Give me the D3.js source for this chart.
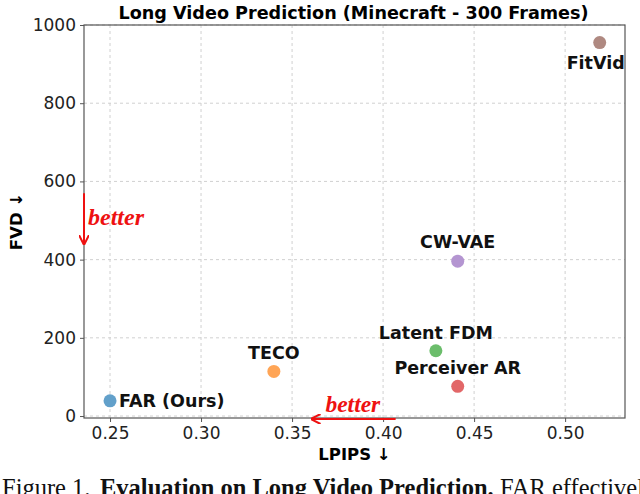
<!DOCTYPE html>
<html>
<head>
<meta charset="utf-8">
<script src="https://cdn.jsdelivr.net/npm/d3@7"></script>
<style>
  body { margin: 0; background: #fff; }
  svg { display: block; }
</style>
</head>
<body>
<svg width="640" height="494"></svg>
<script>
// data
var methods = ["FAR (Ours)", "TECO", "Latent FDM", "Perceiver AR", "CW-VAE", "FitVid"];
var lpips   = [0.250, 0.340, 0.429, 0.441, 0.441, 0.519];
var fvd     = [39, 114, 167, 76, 396, 955];
var colors  = ["#62a0ca", "#ffa556", "#6bbd6b", "#e26768", "#b495d1", "#af8981"];
var xTicks  = [0.25, 0.30, 0.35, 0.40, 0.45, 0.50];
var yTicks  = [0, 200, 400, 600, 800, 1000];

var svg = d3.select("svg"),
    margin = {top: 25, right: 15, bottom: 76, left: 84},
    width = 640 - margin.left - margin.right,
    height = 494 - margin.top - margin.bottom;

var x = d3.scaleLinear().domain([0.2357, 0.5329]).range([0, width]);
var y = d3.scaleLinear().domain([-5, 1000]).range([height, 0]);

var g = svg.append("g")
    .attr("transform", "translate(" + margin.left + "," + margin.top + ")");

svg.append("defs").append("clipPath").attr("id", "plotclip")
  .append("rect").attr("width", width).attr("height", height);

// grid
g.append("g").selectAll("line").data(xTicks).enter().append("line")
    .attr("x1", d => x(d)).attr("x2", d => x(d))
    .attr("y1", 0).attr("y2", height)
    .attr("stroke", "#d0d0d0").attr("stroke-dasharray", "3,3");
g.append("g").selectAll("line").data(yTicks).enter().append("line")
    .attr("y1", d => y(d)).attr("y2", d => y(d))
    .attr("x1", 0).attr("x2", width)
    .attr("stroke", "#d0d0d0").attr("stroke-dasharray", "3,3");

// axes
var xAxis = g.append("g")
    .attr("transform", "translate(0," + height + ")")
    .call(d3.axisBottom(x).tickValues(xTicks).tickFormat(d3.format(".2f")).tickSize(4).tickPadding(5));
var yAxis = g.append("g")
    .call(d3.axisLeft(y).tickValues(yTicks).tickFormat(d3.format("d")).tickSize(4).tickPadding(4));

[xAxis, yAxis].forEach(function(a) {
  a.select(".domain").remove();
  a.selectAll("line").attr("stroke", "#555");
  a.selectAll("text")
    .attr("font-family", "DejaVu Sans").attr("font-size", 17).attr("fill", "#222");
});

// frame
g.append("rect").attr("width", width).attr("height", height)
    .attr("fill", "none").attr("stroke", "#555").attr("stroke-width", 1.2);

// points
var pts = methods.map(function(m, i) { return {name: m, x: lpips[i], y: fvd[i], c: colors[i]}; });

g.selectAll(".dot").data(pts).enter().append("circle")
    .attr("class", "dot")
    .attr("cx", d => x(d.x)).attr("cy", d => y(d.y))
    .attr("r", 6.5).attr("fill", d => d.c);

// labels
var labelPos = {
  "FAR (Ours)":   {dx: 9,  dy: 6,   anchor: "start"},
  "TECO":         {dx: 0,  dy: -12, anchor: "middle"},
  "Latent FDM":   {dx: 0,  dy: -12, anchor: "middle"},
  "Perceiver AR": {dx: 0,  dy: -12, anchor: "middle"},
  "CW-VAE":       {dx: 0,  dy: -13, anchor: "middle"},
  "FitVid":       {dx: -4, dy: 26,  anchor: "middle"}
};
g.append("g").attr("clip-path", "url(#plotclip)")
  .selectAll("text").data(pts).enter().append("text")
    .attr("x", d => x(d.x) + labelPos[d.name].dx)
    .attr("y", d => y(d.y) + labelPos[d.name].dy)
    .attr("text-anchor", d => labelPos[d.name].anchor)
    .attr("font-family", "DejaVu Sans").attr("font-weight", "bold")
    .attr("font-size", 17.5).attr("fill", "#111")
    .text(d => d.name);

// title and axis labels
svg.append("text")
    .attr("x", margin.left + width / 2 - 1).attr("y", 19)
    .attr("text-anchor", "middle")
    .attr("font-family", "DejaVu Sans").attr("font-weight", "bold").attr("font-size", 17.6)
    .text("Long Video Prediction (Minecraft - 300 Frames)");

svg.append("text")
    .attr("x", margin.left + width / 2).attr("y", 460)
    .attr("text-anchor", "middle")
    .attr("font-family", "DejaVu Sans").attr("font-weight", "bold").attr("font-size", 16.5)
    .text("LPIPS \u2193");

svg.append("text")
    .attr("transform", "translate(22," + (margin.top + height / 2) + ") rotate(-90)")
    .attr("text-anchor", "middle")
    .attr("font-family", "DejaVu Sans").attr("font-weight", "bold").attr("font-size", 16.5)
    .text("FVD \u2193");

// "better" arrows
var red = "#ee1111";
svg.append("defs").append("marker")
    .attr("id", "head").attr("viewBox", "0 0 10 10")
    .attr("refX", 9).attr("refY", 5)
    .attr("markerWidth", 5).attr("markerHeight", 5)
    .attr("orient", "auto")
  .append("path").attr("d", "M0,0 L10,5 L0,10").attr("fill", "none")
    .attr("stroke", red).attr("stroke-width", 2);

g.append("line")
    .attr("x1", 0).attr("x2", 0)
    .attr("y1", y(570)).attr("y2", y(440))
    .attr("stroke", red).attr("stroke-width", 2).attr("marker-end", "url(#head)");
g.append("text")
    .attr("x", 4).attr("y", y(488))
    .attr("font-family", "Liberation Serif").attr("font-style", "italic").attr("font-weight", "bold")
    .attr("font-size", 24).attr("fill", red)
    .text("better");

g.append("line")
    .attr("x1", x(0.4069)).attr("x2", x(0.3607))
    .attr("y1", height + 1).attr("y2", height + 1)
    .attr("stroke", red).attr("stroke-width", 2).attr("marker-end", "url(#head)");
g.append("text")
    .attr("x", x(0.3834)).attr("y", height - 6)
    .attr("text-anchor", "middle")
    .attr("font-family", "Liberation Serif").attr("font-style", "italic").attr("font-weight", "bold")
    .attr("font-size", 23.5).attr("fill", red)
    .text("better");

// caption (cut off by the page bottom, as in the source)
var cap = svg.append("text")
    .attr("y", 496)
    .attr("font-family", "Liberation Serif").attr("font-size", 24.5).attr("fill", "#111");
cap.append("tspan").attr("x", 2).text("Figure 1.");
cap.append("tspan").attr("x", 100).attr("font-weight", "bold").text("Evaluation on Long Video Prediction.");
cap.append("tspan").attr("x", 500).text("FAR effectively");
</script>
</body>
</html>
